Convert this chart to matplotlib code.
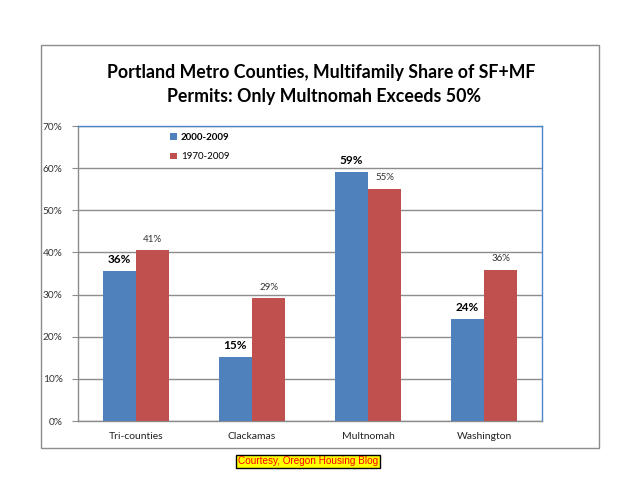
import matplotlib
matplotlib.use("Agg")
import matplotlib.pyplot as plt
from matplotlib.patches import Rectangle
import numpy as np

counties = ["Tri-counties", "Clackamas", "Multnomah", "Washington"]
share_2000_2009 = [35.6, 15.1, 59.0, 24.2]
share_1970_2009 = [40.6, 29.2, 55.1, 35.9]
labels_2000_2009 = ["36%", "15%", "59%", "24%"]
labels_1970_2009 = ["41%", "29%", "55%", "36%"]
yticks = [0, 10, 20, 30, 40, 50, 60, 70]

BLUE = "#4f81bd"
RED = "#c0504d"
plt.rcParams["font.family"] = ["Lato", "DejaVu Sans"]

W, H = 640, 494
fig = plt.figure(figsize=(6.4, 4.94), dpi=100)

# outer chart frame
fig.patches.append(Rectangle((41 / W, 1 - 448 / H), (599 - 41) / W, (448 - 45) / H,
                             transform=fig.transFigure, fill=False,
                             edgecolor="#8c8c8c", lw=1.0))

ax = fig.add_axes([78 / W, 1 - 421 / H, (542 - 78) / W, (421 - 126) / H])
x = np.arange(len(counties))
bw = 0.285
b1 = ax.bar(x - bw / 2, share_2000_2009, bw, color=BLUE, label="2000-2009", zorder=3)
b2 = ax.bar(x + bw / 2, share_1970_2009, bw, color=RED, label="1970-2009", zorder=3)

for r, t in zip(b1, labels_2000_2009):
    ax.text(r.get_x() + r.get_width() / 2, r.get_height() + 1.5, t,
            ha="center", va="bottom", fontsize=8.5, fontweight="bold")
for r, t in zip(b2, labels_1970_2009):
    ax.text(r.get_x() + r.get_width() / 2, r.get_height() + 1.5, t,
            ha="center", va="bottom", fontsize=7, color="#333333")

ax.set_xlim(-0.5, 3.5)
ax.set_ylim(0, 70)
ax.set_yticks(yticks)
ax.set_yticklabels([f"{v}%" for v in yticks], fontsize=7.3, color="#333333")
ax.set_xticks(x)
ax.set_xticklabels(counties, fontsize=7.5, color="#222222")
ax.tick_params(axis="y", length=4, color="#8c8c8c", pad=7)
ax.tick_params(axis="x", length=0, pad=8)
ax.yaxis.grid(True, color="#8c8c8c", lw=1.0, zorder=0)
for s in ["left", "bottom"]:
    ax.spines[s].set_color("#8c8c8c")
    ax.spines[s].set_linewidth(1.0)
for s in ["top", "right"]:
    ax.spines[s].set_color("#4a86c8")
    ax.spines[s].set_linewidth(1.0)

leg = ax.legend(loc="upper left", bbox_to_anchor=(0.18, 1.005), frameon=False,
                fontsize=7, handlelength=0.7, handleheight=0.7,
                labelspacing=1.05, handletextpad=0.4)
leg.get_texts()[0].set_fontweight("bold")

fig.text(321 / W, 1 - 72 / H, "Portland Metro Counties, Multifamily Share of SF+MF",
         ha="center", va="center", fontsize=12.8, fontweight="bold")
fig.text(324 / W, 1 - 96 / H, "Permits: Only Multnomah Exceeds 50%",
         ha="center", va="center", fontsize=12.8, fontweight="bold")

fig.text(308 / W, 1 - 461 / H, "Courtesy, Oregon Housing Blog", ha="center", va="center",
         fontsize=7.2, color="#ff0000", family="Liberation Sans",
         bbox=dict(boxstyle="square,pad=0.15", facecolor="#ffff00", edgecolor="black", lw=1))

fig.savefig("out.png", dpi=100, facecolor="white")
